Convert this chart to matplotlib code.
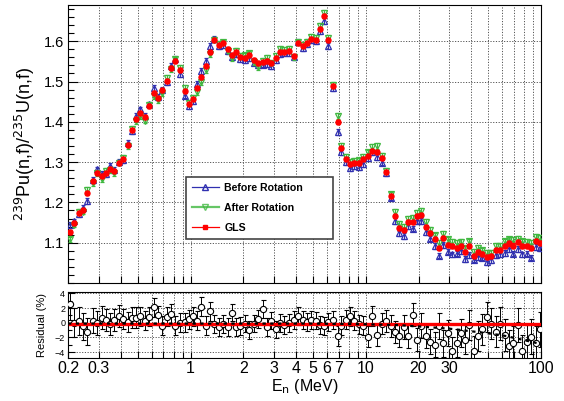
import numpy as np
import matplotlib
matplotlib.use("Agg")
import matplotlib.pyplot as plt
from matplotlib.lines import Line2D
from matplotlib.ticker import FixedLocator, FixedFormatter, NullFormatter

plt.rcParams['font.family'] = ['Liberation Sans', 'DejaVu Sans']

# neutron energy grid (MeV)
energy = [0.205, 0.216, 0.231, 0.245, 0.258, 0.277, 0.292, 0.312, 0.330, 0.348,
          0.368, 0.390, 0.411, 0.437, 0.462, 0.489, 0.516, 0.551, 0.583, 0.615,
          0.654, 0.692, 0.733, 0.772, 0.818, 0.873, 0.924, 0.974, 1.032, 1.088,
          1.151, 1.224, 1.296, 1.366, 1.445, 1.531, 1.627, 1.724, 1.824, 1.923,
          2.034, 2.164, 2.290, 2.427, 2.578, 2.731, 2.891, 3.060, 3.254, 3.430,
          3.648, 3.878, 4.108, 4.386, 4.624, 4.894, 5.178, 5.458, 5.754, 6.095,
          6.476, 6.918, 7.262, 7.728, 8.177, 8.618, 9.166, 9.662, 10.26, 10.92,
          11.62, 12.34, 13.12, 13.84, 14.64, 15.57, 16.48, 17.47, 18.48, 19.56,
          20.72, 21.93, 23.20, 24.68, 26.12, 27.68, 29.41, 31.16, 32.98, 34.76,
          36.79, 38.98, 41.40, 43.65, 46.24, 48.95, 52.05, 55.09, 58.30, 62.00,
          65.62, 69.52, 73.86, 77.86, 82.82, 87.30, 93.26, 98.66]

# GLS evaluated ratio
gls = [1.126, 1.149, 1.174, 1.181, 1.224, 1.252, 1.274, 1.266, 1.274, 1.284,
       1.278, 1.297, 1.308, 1.343, 1.380, 1.408, 1.423, 1.413, 1.439, 1.472,
       1.459, 1.478, 1.502, 1.533, 1.551, 1.529, 1.477, 1.445, 1.456, 1.484,
       1.512, 1.539, 1.574, 1.602, 1.591, 1.595, 1.581, 1.566, 1.573, 1.562,
       1.559, 1.566, 1.553, 1.545, 1.548, 1.551, 1.545, 1.558, 1.574, 1.574,
       1.576, 1.564, 1.595, 1.589, 1.595, 1.606, 1.603, 1.631, 1.662, 1.602,
       1.489, 1.399, 1.334, 1.308, 1.295, 1.298, 1.298, 1.308, 1.316, 1.328,
       1.326, 1.309, 1.276, 1.216, 1.166, 1.137, 1.131, 1.151, 1.151, 1.166,
       1.168, 1.139, 1.124, 1.108, 1.088, 1.112, 1.094, 1.091, 1.087, 1.091,
       1.078, 1.091, 1.068, 1.078, 1.073, 1.064, 1.066, 1.081, 1.081, 1.091,
       1.098, 1.093, 1.101, 1.091, 1.091, 1.087, 1.104, 1.099]

before_rot = [1.144, 1.153, 1.170, 1.187, 1.204, 1.256, 1.282, 1.270, 1.270, 1.290,
              1.281, 1.301, 1.305, 1.347, 1.376, 1.414, 1.431, 1.415, 1.443, 1.484,
              1.462, 1.480, 1.499, 1.539, 1.557, 1.519, 1.465, 1.439, 1.452, 1.494,
              1.526, 1.551, 1.588, 1.606, 1.587, 1.590, 1.575, 1.560, 1.569, 1.555,
              1.553, 1.558, 1.547, 1.540, 1.542, 1.543, 1.539, 1.554, 1.568, 1.570,
              1.571, 1.560, 1.599, 1.584, 1.592, 1.602, 1.600, 1.625, 1.650, 1.588,
              1.483, 1.375, 1.324, 1.300, 1.285, 1.290, 1.288, 1.296, 1.310, 1.324,
              1.312, 1.299, 1.272, 1.212, 1.154, 1.123, 1.117, 1.141, 1.135, 1.154,
              1.154, 1.127, 1.110, 1.092, 1.068, 1.094, 1.078, 1.071, 1.073, 1.079,
              1.060, 1.069, 1.058, 1.064, 1.063, 1.052, 1.056, 1.069, 1.071, 1.075,
              1.084, 1.073, 1.085, 1.071, 1.073, 1.063, 1.090, 1.087]

after_rot = [1.108, 1.145, 1.176, 1.177, 1.232, 1.248, 1.272, 1.258, 1.278, 1.280,
             1.272, 1.299, 1.311, 1.339, 1.382, 1.402, 1.415, 1.403, 1.441, 1.464,
             1.453, 1.472, 1.508, 1.531, 1.555, 1.533, 1.485, 1.447, 1.460, 1.474,
             1.498, 1.529, 1.568, 1.604, 1.594, 1.597, 1.577, 1.558, 1.577, 1.564,
             1.565, 1.570, 1.549, 1.535, 1.552, 1.559, 1.547, 1.564, 1.580, 1.578,
             1.580, 1.560, 1.597, 1.591, 1.599, 1.610, 1.609, 1.639, 1.670, 1.608,
             1.491, 1.415, 1.340, 1.312, 1.301, 1.302, 1.304, 1.312, 1.324, 1.338,
             1.340, 1.315, 1.278, 1.220, 1.176, 1.147, 1.139, 1.159, 1.161, 1.174,
             1.178, 1.151, 1.132, 1.118, 1.100, 1.122, 1.108, 1.101, 1.099, 1.101,
             1.086, 1.103, 1.078, 1.088, 1.081, 1.074, 1.074, 1.091, 1.093, 1.103,
             1.108, 1.107, 1.109, 1.103, 1.101, 1.099, 1.114, 1.111]

# residuals (%) of the measured points
residual = [2.6, 0.0, 0.3, -0.5, -1.2, 0.3, 0.0, 0.7, 0.4, -0.1,
            0.4, 0.9, 0.5, 0.1, 0.7, 0.7, 0.9, 0.3, 0.8, 2.1,
            1.0, -0.4, 0.8, 1.2, -0.4, 0.0, 0.1, 0.5, 0.9, 0.3,
            2.2, -0.4, 1.6, -0.2, -0.6, -0.2, -0.6, 1.4, -0.6, -0.4,
            -0.1, -1.0, -0.1, 0.5, 1.9, -0.6, 0.3, -0.9, 0.0, -0.3,
            0.0, 0.4, 0.9, 0.4, 0.1, 0.4, 0.3, -0.3, -0.4, 0.1,
            0.4, -1.8, -0.4, 0.4, 0.9, 0.3, -0.2, -0.4, -1.9, 0.9,
            -1.7, -0.1, 0.3, -0.4, -1.2, -1.8, -0.6, -1.8, 1.1, -2.3,
            -0.4, -1.8, -2.6, -3.0, -0.4, -2.8, -1.4, -3.8, -2.8, -1.4,
            -2.3, -0.3, -3.8, -1.8, -0.9, 0.8, -0.1, -1.2, -0.1, -1.7,
            -3.2, -2.7, -0.3, -3.9, -2.6, -1.9, -2.8, -0.9]

residual_err = [2.2, 2.0, 1.9, 1.8, 1.8, 1.7, 1.6, 1.6, 1.5, 1.5,
                1.5, 1.5, 1.4, 1.4, 1.4, 1.4, 1.3, 1.3, 1.3, 1.3,
                1.3, 1.3, 1.3, 1.3, 1.3, 1.3, 1.3, 1.3, 1.3, 1.3,
                1.3, 1.3, 1.3, 1.2, 1.2, 1.2, 1.2, 1.2, 1.2, 1.2,
                1.2, 1.2, 1.2, 1.2, 1.2, 1.2, 1.2, 1.2, 1.2, 1.2,
                1.2, 1.2, 1.2, 1.2, 1.2, 1.2, 1.2, 1.2, 1.2, 1.2,
                1.2, 1.3, 1.3, 1.3, 1.3, 1.3, 1.3, 1.3, 1.4, 1.4,
                1.4, 1.4, 1.5, 1.5, 1.5, 1.5, 1.6, 1.6, 1.6, 1.6,
                1.7, 1.7, 1.7, 1.7, 1.8, 1.8, 1.8, 1.9, 1.9, 1.9,
                2.0, 2.0, 2.0, 2.0, 2.1, 2.1, 2.1, 2.1, 2.2, 2.2,
                2.2, 2.2, 2.3, 2.3, 2.3, 2.4, 2.4, 2.4]

# smooth trend of the unrotated residuals
trend_e = [0.2, 1.0, 5.0, 10.0, 15.0, 20.0, 30.0, 45.0, 60.0, 75.0, 100.0]
trend_res = [-0.1, -0.1, -0.1, -0.2, -0.3, -0.5, -0.8, -1.3, -1.7, -2.2, -2.9]

x_ticks = [0.2, 0.3, 1, 2, 3, 4, 5, 6, 7, 10, 20, 30, 100]
x_ticklabels = ['0.2', '0.3', '1', '2', '3', '4', '5', '6', '7', '10', '20', '30', '100']
grid_x = [0.2, 0.3, 0.4, 0.5, 0.6, 0.7, 0.8, 0.9, 1, 2, 3, 4, 5, 6, 7, 8, 9,
          10, 20, 30, 40, 50, 60, 70, 80, 90, 100]

fig = plt.figure(figsize=(5.64, 4.01), dpi=100)
ax = fig.add_axes([0.1206, 0.2943, 0.8387, 0.6933])
axr = fig.add_axes([0.1206, 0.1072, 0.8387, 0.1646])

blue = '#3030b0'
green = '#40b840'
red = '#ff0000'

# upper panel: ratio
ax.errorbar(energy, before_rot, yerr=0.007, fmt='^', ms=5, mfc='none', mec=blue,
            mew=0.9, ecolor=blue, elinewidth=0.8, capsize=1.5, zorder=3)
ax.errorbar(energy, after_rot, yerr=0.007, fmt='v', ms=5, mfc='none', mec=green,
            mew=0.9, ecolor=green, elinewidth=0.8, capsize=1.5, zorder=4)
ax.errorbar(energy, gls, yerr=0.005, fmt='o', ms=3.6, mfc=red, mec=red,
            ecolor=red, elinewidth=0.8, capsize=1.2, zorder=5)

ax.set_xscale('log')
ax.set_xlim(0.2, 100)
ax.set_ylim(1.0, 1.69)
ax.set_yticks([1.1, 1.2, 1.3, 1.4, 1.5, 1.6])
ax.set_yticks(np.arange(1.0, 1.69, 0.02), minor=True)
ax.xaxis.set_major_locator(FixedLocator(grid_x))
ax.xaxis.set_minor_locator(FixedLocator([]))
ax.xaxis.set_major_formatter(NullFormatter())
ax.tick_params(axis='y', which='major', direction='in', length=7, width=0.8, labelsize=10.5, pad=3)
ax.tick_params(axis='y', which='minor', direction='in', length=4, width=0.8)
ax.tick_params(axis='x', which='major', direction='in', length=5, width=0.8)
ax.grid(True, which='major', axis='both', ls=(0, (1.2, 1.6)), color='#555555', lw=0.7)
ax.set_ylabel(r'$^{239}$Pu(n,f)/$^{235}$U(n,f)', fontsize=13, labelpad=5)

handles = [
    Line2D([], [], color=blue, lw=0.9, marker='^', ms=5, mfc='none', mec=blue),
    Line2D([], [], color=green, lw=1.6, alpha=0.8, marker='v', ms=5, mfc='none', mec=green),
    Line2D([], [], color=red, lw=0.9, marker='s', ms=3, mfc=red, mec=red),
]
leg = ax.legend(handles, ['Before Rotation', 'After Rotation', 'GLS'],
                loc='upper left', bbox_to_anchor=(0.249, 0.158, 0.311, 0.223),
                mode='expand', borderaxespad=0,
                prop={'weight': 'bold', 'size': 7.6}, fancybox=False,
                edgecolor='#444444', framealpha=1, handlelength=2.6,
                labelspacing=0.95, borderpad=0.55, handletextpad=0.5)
leg.get_frame().set_linewidth(1.2)

# lower panel: residuals
axr.errorbar(energy, residual, yerr=residual_err, fmt='o', ms=4.5, mfc='white',
             mec='black', mew=0.8, ecolor='black', elinewidth=0.7, capsize=1.8, zorder=3)
axr.plot([0.205, 98.66], [-0.1, -0.1], color=red, lw=2.4, zorder=4)
axr.plot(trend_e, trend_res, color='black', lw=1.6, ls=(0, (1.5, 2.0)), zorder=5)

axr.set_xscale('log')
axr.set_xlim(0.2, 100)
axr.set_ylim(-4.8, 4.2)
axr.set_yticks([-4, -2, 0, 2, 4])
axr.set_yticks([-3, -1, 1, 3], minor=True)
axr.xaxis.set_major_locator(FixedLocator(grid_x))
axr.xaxis.set_minor_locator(FixedLocator([]))
axr.xaxis.set_major_formatter(FixedFormatter(
    [x_ticklabels[x_ticks.index(g)] if g in x_ticks else '' for g in grid_x]))
axr.tick_params(axis='x', which='major', direction='in', length=5, width=0.8, labelsize=11.5, pad=2)
axr.tick_params(axis='y', which='major', direction='in', length=5, width=0.8, labelsize=6.5, pad=2)
axr.tick_params(axis='y', which='minor', direction='in', length=3, width=0.8)
axr.grid(True, which='major', axis='both', ls=(0, (1.2, 1.6)), color='#555555', lw=0.7)
axr.set_ylabel('Residual (%)', fontsize=8, labelpad=6)
axr.set_xlabel(r'E$_{\rm n}$ (MeV)', fontsize=11.5, labelpad=1)

fig.savefig('out.png', dpi=100)
